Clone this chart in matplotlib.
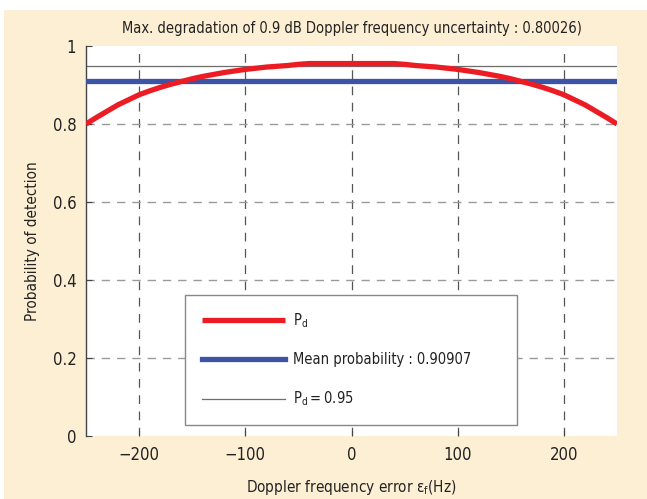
import matplotlib
matplotlib.use("Agg")
import matplotlib.pyplot as plt
from matplotlib.patches import Rectangle

# Doppler frequency error (Hz) and probability of detection
freq_err = [-250, -240, -230, -220, -210, -200, -190, -180, -170, -160,
            -150, -140, -130, -120, -110, -100, -90, -80, -70, -60,
            -50, -40, -30, -20, -10, 0, 10, 20, 30, 40,
            50, 60, 70, 80, 90, 100, 110, 120, 130, 140,
            150, 160, 170, 180, 190, 200, 210, 220, 230, 240, 250]
pd_vals = [0.800, 0.817, 0.833, 0.849, 0.862, 0.875, 0.885, 0.894, 0.902, 0.909,
           0.916, 0.922, 0.927, 0.932, 0.936, 0.940, 0.943, 0.946, 0.948, 0.950,
           0.953, 0.955, 0.955, 0.955, 0.955, 0.955, 0.955, 0.955, 0.955, 0.955,
           0.953, 0.950, 0.948, 0.946, 0.943, 0.940, 0.936, 0.932, 0.927, 0.922,
           0.916, 0.909, 0.902, 0.894, 0.885, 0.875, 0.862, 0.849, 0.833, 0.817, 0.800]
mean_prob = 0.90907
pd_target = 0.95
max_degradation = 0.80026

x_ticks = [-200, -100, 0, 100, 200]
y_ticks = [0, 0.2, 0.4, 0.6, 0.8, 1.0]
y_tick_labels = ["0", "0.2", "0.4", "0.6", "0.8", "1"]

plt.rcParams["font.family"] = ["DejaVu Sans"]
plt.rcParams["font.stretch"] = "condensed"
plt.rcParams["mathtext.fontset"] = "custom"
plt.rcParams["mathtext.rm"] = "DejaVu Sans:stretch=condensed"
plt.rcParams["mathtext.it"] = "DejaVu Sans:stretch=condensed:italic"

W, H = 647, 499
fig = plt.figure(figsize=(W / 100, H / 100), dpi=100, facecolor="white")
fig.patches.append(Rectangle((4 / W, 0), 1, (H - 10) / H, transform=fig.transFigure,
                             facecolor="#FDEFD4", edgecolor="none", zorder=-10))

ax = fig.add_axes([86 / W, 63 / H, 531 / W, 390 / H])
ax.set_facecolor("white")

red = "#EC1C24"
blue = "#3B54A3"

ax.plot(freq_err, pd_vals, color=red, lw=3.8, solid_capstyle="butt",
        label=r"$\mathregular{P_d}$", zorder=4)
ax.axhline(mean_prob, color=blue, lw=3.8,
           label=f"Mean probability : {mean_prob:.5f}", zorder=3)
ax.axhline(pd_target, color="#6d6d6d", lw=0.9,
           label=r"$\mathregular{P_d = 0.95}$", zorder=2)

ax.set_xlim(-250, 250)
ax.set_ylim(0, 1)
ax.set_xticks(x_ticks)
ax.set_xticklabels(["\u2212200", "\u2212100", "0", "100", "200"])
ax.set_yticks(y_ticks)
ax.set_yticklabels(y_tick_labels)
ax.tick_params(direction="in", length=4, width=0.8, color="#444444",
               labelsize=12, labelcolor="#222222", pad=7)
ax.tick_params(axis="x", pad=7)

for side in ("top", "right", "bottom"):
    ax.spines[side].set_visible(False)
ax.spines["left"].set_color("#444444")
ax.spines["left"].set_linewidth(1.0)

for xv in x_ticks:
    ax.axvline(xv, color="#555555", lw=0.9, dashes=(7, 6), zorder=1)
for yv in y_ticks[1:-1]:
    ax.axhline(yv, color="#9a9a9a", lw=1.0, dashes=(6, 5), zorder=1)

ax.set_title(f"Max. degradation of 0.9 dB Doppler frequency uncertainty : {max_degradation:.5f})",
             fontsize=10.5, color="#222222", pad=9)
ax.set_ylabel("Probability of detection", fontsize=11, color="#222222", labelpad=9)
ax.set_xlabel(r"Doppler frequency error ε$\mathregular{_f}$(Hz)", fontsize=11,
              color="#222222", labelpad=10)

leg = ax.legend(loc="lower left", bbox_to_anchor=(0.186, 0.028, 0.626, 0.34),
                mode="expand", borderaxespad=0, fontsize=10.5, handlelength=5.7,
                handletextpad=0.55, labelspacing=1.52, borderpad=1.15,
                fancybox=False, framealpha=1, edgecolor="#888888")
leg.get_frame().set_linewidth(1.0)
for t in leg.get_texts():
    t.set_color("#222222")

fig.savefig("out.png", dpi=100, facecolor=fig.get_facecolor())
